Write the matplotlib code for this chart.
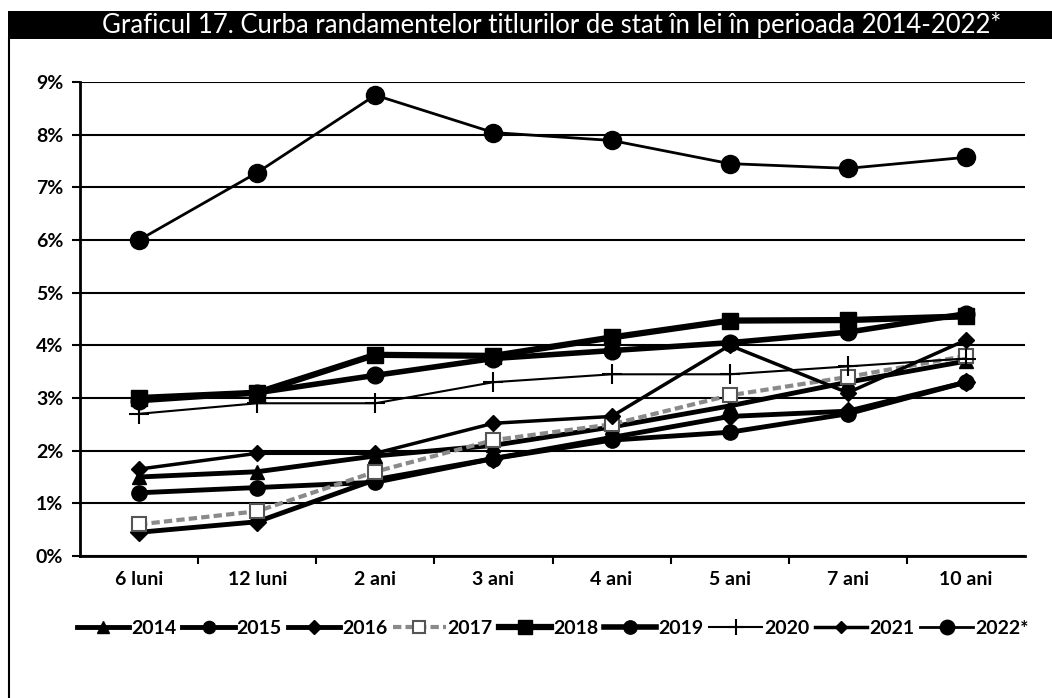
import numpy as np
import matplotlib
matplotlib.use("Agg")
import matplotlib.pyplot as plt
from matplotlib.patches import Rectangle

plt.rcParams['font.family'] = ['Lato', 'DejaVu Sans']

# maturities on the x axis
maturities = ["6 luni", "12 luni", "2 ani", "3 ani", "4 ani", "5 ani", "7 ani", "10 ani"]

# yields in %
y2014 = [1.50, 1.60, 1.90, 2.10, 2.45, 2.85, 3.30, 3.70]
y2015 = [1.20, 1.30, 1.40, 1.85, 2.20, 2.35, 2.70, 3.30]
y2016 = [0.45, 0.65, 1.45, 1.85, 2.25, 2.65, 2.75, 3.30]
y2017 = [0.60, 0.85, 1.60, 2.20, 2.50, 3.05, 3.40, 3.80]
y2018 = [3.00, 3.10, 3.82, 3.80, 4.15, 4.47, 4.48, 4.55]
y2019 = [2.95, 3.10, 3.43, 3.75, 3.90, 4.05, 4.25, 4.60]
y2020 = [2.70, 2.90, 2.90, 3.30, 3.45, 3.45, 3.60, 3.75]
y2021 = [1.65, 1.95, 1.95, 2.52, 2.65, 4.00, 3.10, 4.10]
y2022 = [6.00, 7.28, 8.75, 8.04, 7.89, 7.45, 7.36, 7.57]

series_labels = ["2014", "2015", "2016", "2017", "2018", "2019", "2020", "2021", "2022*"]

fig = plt.figure(figsize=(10.52, 6.98), dpi=100)

# title bar and frame
fig.patches.append(Rectangle((8/1052, 1-39/698), 1-8/1052, 28/698, transform=fig.transFigure,
                             facecolor="black", edgecolor="none", zorder=0))
fig.lines.append(plt.Line2D([8.5/1052, 8.5/1052], [0, 1-38/698], transform=fig.transFigure,
                            color="black", lw=1.5))
fig.text(0.524, 1-25/698, "Graficul 17. Curba randamentelor titlurilor de stat în lei în perioada 2014-2022*",
         color="white", fontsize=18.5, ha="center", va="center")

ax = fig.add_axes([80/1052, 1-556/698, 945/1052, (556-82)/698])
x = np.arange(len(maturities))

common = dict(color="black", lw=3.5)
ax.plot(x, y2014, marker="^", ms=10, **common, label=series_labels[0], zorder=3)
ax.plot(x, y2015, marker="o", ms=11, **common, label=series_labels[1], zorder=3)
ax.plot(x, y2016, marker="D", ms=9, **common, label=series_labels[2], zorder=3)
ax.plot(x, y2017, marker="s", ms=10, color="#8a8a8a", lw=3, ls=(0, (2, 1)), mfc="white",
        mec="#555555", mew=1.5, label=series_labels[3], zorder=3)
ax.plot(x, y2018, marker="s", ms=12, color="black", lw=4.5, label=series_labels[4], zorder=3)
ax.plot(x, y2019, marker="o", ms=12, color="black", lw=4, label=series_labels[5], zorder=3)
ax.plot(x, y2020, marker="+", ms=14, mew=1.5, color="black", lw=1.5, label=series_labels[6], zorder=3)
ax.plot(x, y2021, marker="D", ms=8, color="black", lw=2.5, label=series_labels[7], zorder=3)
ax.plot(x, y2022, marker="o", ms=13, color="black", lw=2, label=series_labels[8], zorder=3)

ax.set_xlim(-0.5, len(maturities) - 0.5)
ax.set_ylim(0, 9)
ax.set_yticks(np.arange(0, 10, 1))
ax.set_yticklabels([f"{v}%" for v in range(10)], fontsize=14, fontweight="bold")
ax.set_xticks(x)
ax.set_xticklabels(maturities, fontsize=14, fontweight="bold")
ax.set_xticks(np.arange(0.5, len(maturities) - 0.5, 1), minor=True)
ax.tick_params(axis="x", which="major", length=0, pad=11)
ax.tick_params(axis="x", which="minor", length=6, width=1.5, direction="out")
ax.tick_params(axis="y", length=6, width=1.5, direction="out", pad=6)
ax.yaxis.grid(True, color="black", lw=1.5)
ax.set_axisbelow(True)
for side in ["top", "right"]:
    ax.spines[side].set_visible(False)
for side in ["left", "bottom"]:
    ax.spines[side].set_linewidth(2)

ax.legend(loc="center", bbox_to_anchor=(0.5, -0.152), ncol=9, frameon=False,
          prop={"size": 14, "weight": "bold"}, handlelength=2.7, handletextpad=0.1,
          columnspacing=0.3, markerscale=0.8)

fig.savefig("out.png", dpi=100)
